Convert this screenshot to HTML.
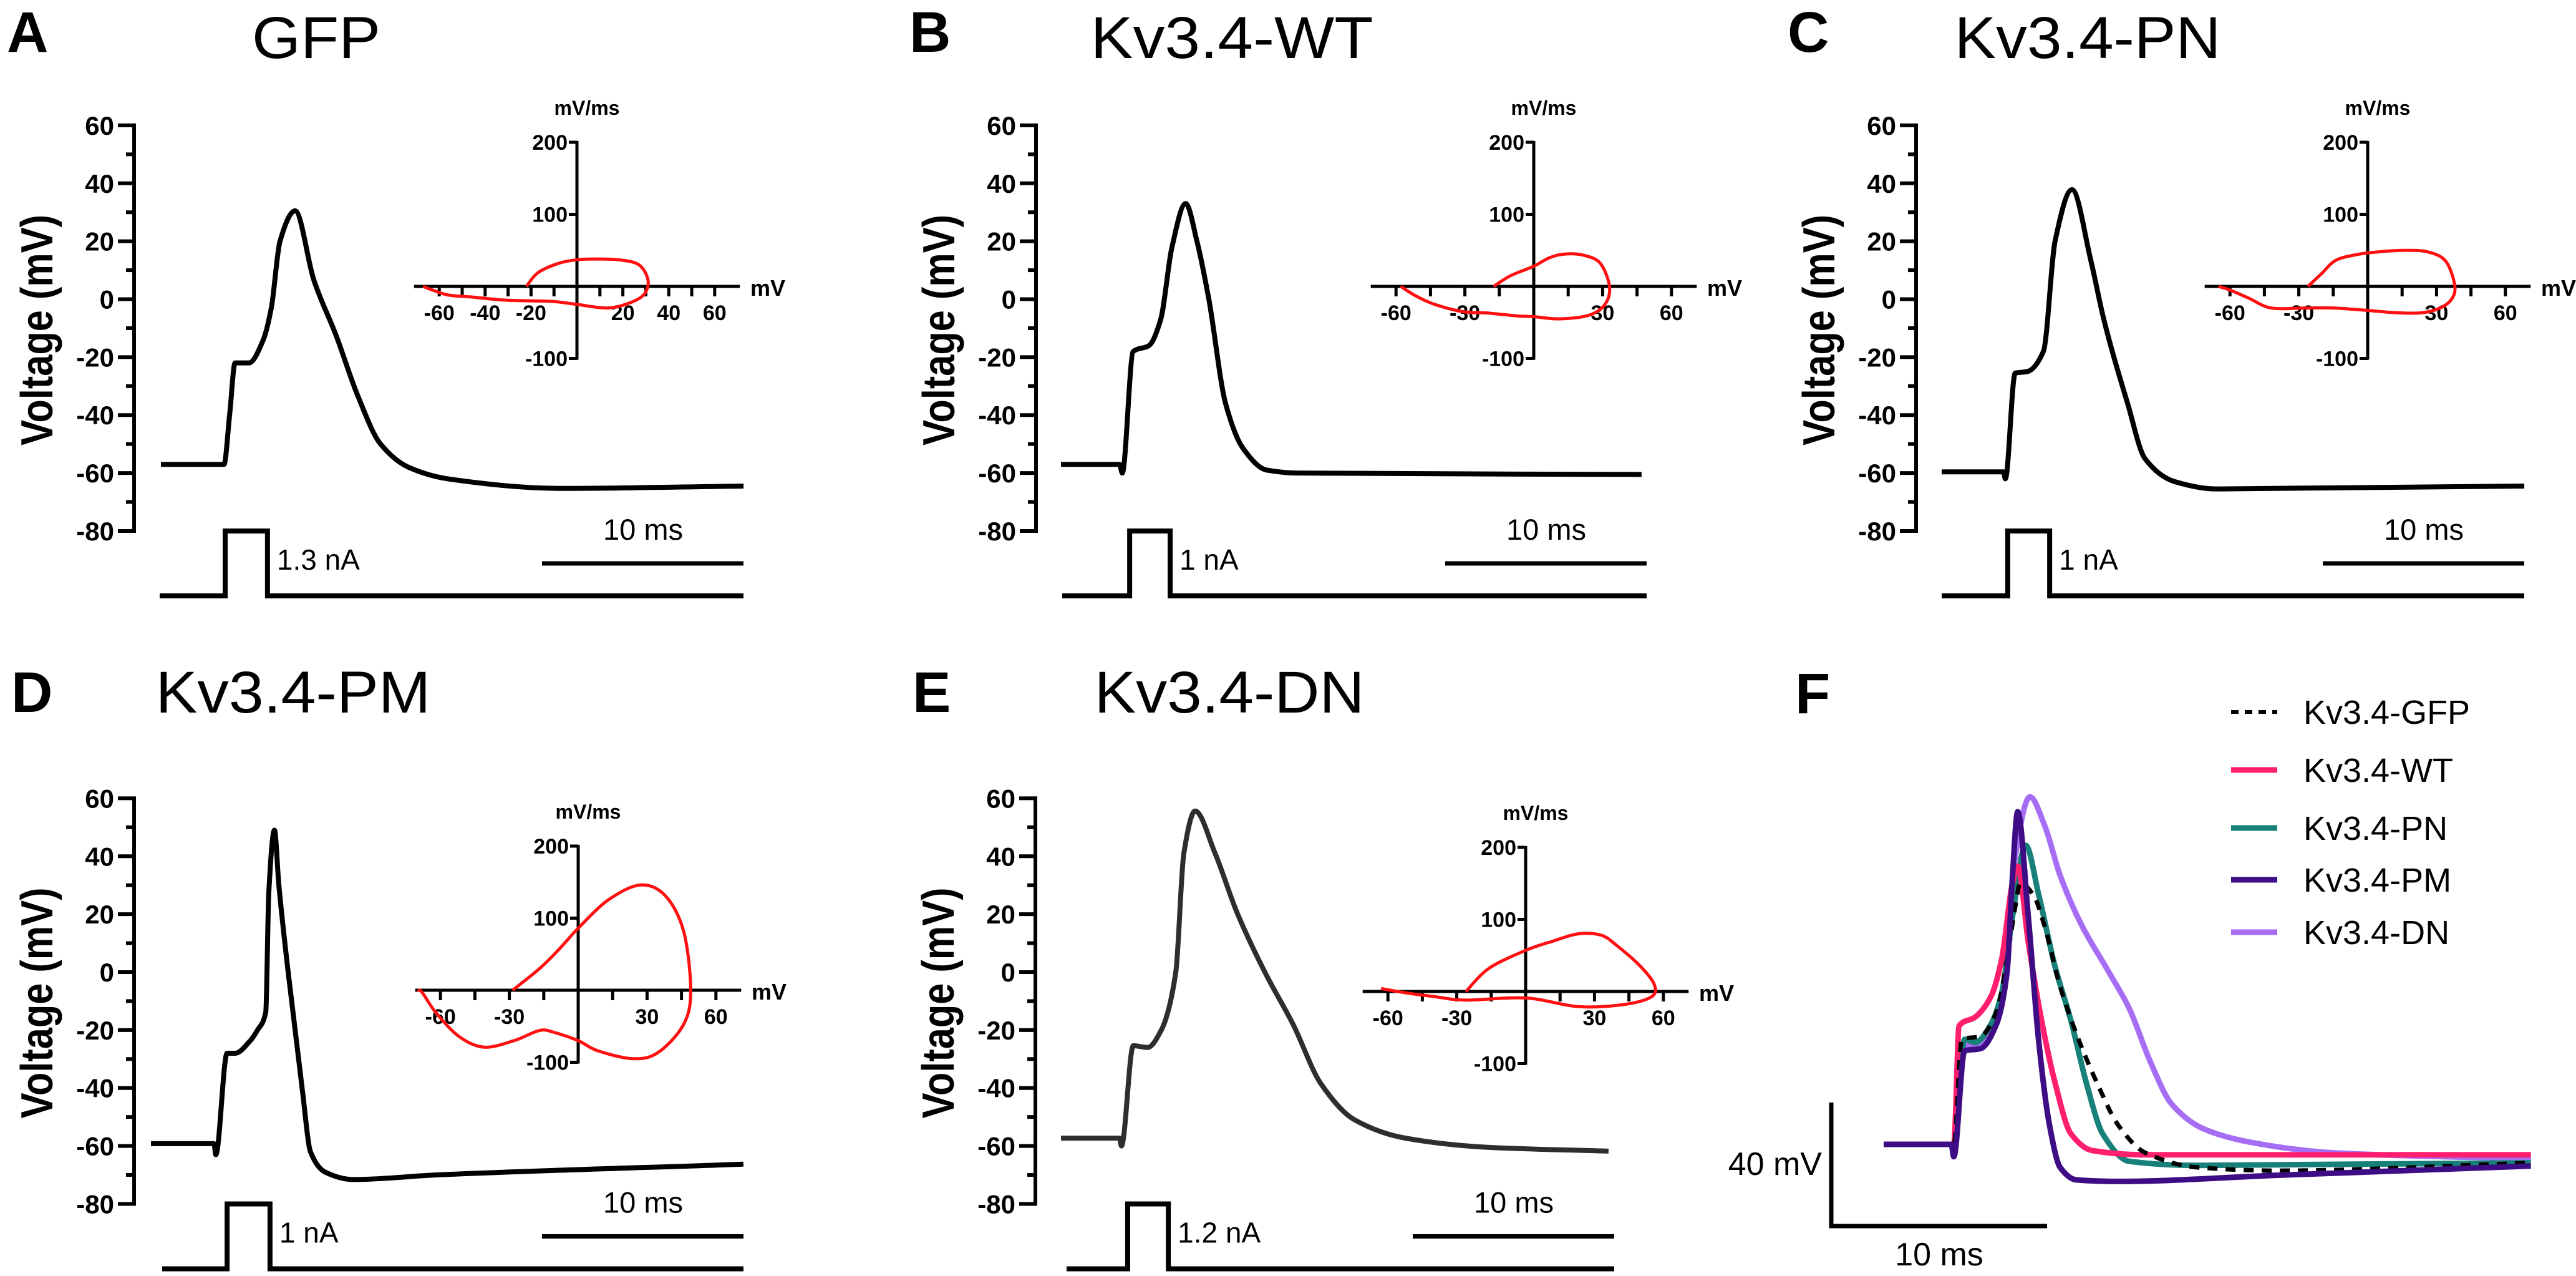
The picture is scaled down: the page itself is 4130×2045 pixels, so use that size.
<!DOCTYPE html>
<html><head><meta charset="utf-8"><title>Kv3.4 action potentials</title>
<style>html,body{margin:0;padding:0;background:#fff}svg{display:block}text{font-family:"Liberation Sans",Arial,sans-serif}</style>
</head><body>
<svg id="fig" xmlns="http://www.w3.org/2000/svg" width="4130" height="2045" viewBox="0 0 4130 2045">
<rect width="4130" height="2045" fill="#fff"/>
</svg>
<script>
// ---------- DATA (ms, mV) ----------
const tA=[0,3.13,3.41,3.68,4.37,5.08,5.48,5.91,6.66,7.59,8.70,9.78,10.90,12.29,14.24,19.88,28.92];
const vA=[-57,-57,-40,-22,-22,-14,-3,20,30.5,6.6,-12.6,-33.5,-50,-58,-62,-65.3,-64.5];
const tB=[0,2.91,3.04,3.59,4.37,4.95,5.51,6.19,6.75,7.34,8.17,9.04,10.22,11.73,28.82];
const vB=[-57,-57,-60,-18,-16,-7,18,33,20,0,-36,-51.5,-59,-60,-60.5];
const tC=[0,3.07,3.16,3.65,4.24,5.05,5.63,6.47,7.40,8.05,9.23,10.09,11.58,13.62,28.92];
const vC=[-59.6,-59.6,-62,-25.5,-25,-18,20,37.8,13.5,-7,-36,-55,-63,-65.5,-64.5];
const tD=[0,3.13,3.22,3.78,4.18,4.89,5.29,5.70,5.85,6.13,6.35,6.81,7.52,7.92,8.64,10.03,14.18,29.41];
const vD=[-59.2,-59.2,-63,-28,-28,-24,-20,-13.8,27.6,49,30,0,-41,-62,-69,-71.6,-70,-66.3];
const tE=[0,2.91,3.00,3.59,4.30,4.98,5.70,6.10,6.66,7.65,8.73,10.12,11.52,12.91,14.58,17.09,21.24,27.18];
const vE=[-57.3,-57.3,-60,-25.4,-26,-20,0,41,55.6,41,20.7,0,-18,-38.6,-51,-57.3,-60.5,-61.8];
// stimulus pulses (ms) and labels
const stimOn=[3.19,3.41,3.28,3.78,3.31];
const stimOff=[5.29,5.42,5.36,5.91,5.33];
const stimLabels=["1.3 nA","1 nA","1 nA","1 nA","1.2 nA"];
const titles=["GFP","Kv3.4-WT","Kv3.4-PN","Kv3.4-PM","Kv3.4-DN"];
const letters=["A","B","C","D","E"];
const yTicks=[-80,-60,-40,-20,0,20,40,60];
const insetYTicks=[200,100,-100];
// phase plots (V in mV, dV/dt in mV/ms)
const pVA=[-22,-17,-8,0,7,18,27,31,29,22,13,0,-10,-20,-32,-45,-56,-63,-67];
const pDA=[0,19,32,37,38,37,30,8,-12,-24,-30,-25,-21,-20,-19,-15,-12,-5,0];
const pVB=[-17.5,-10,0,7,14,22,29,33,31,24,11,0,-7,-20,-31,-44,-52,-58];
const pDB=[0,15,28,40,45,43,32,0,-25,-40,-45,-42,-41,-37,-35,-24,-12,0];
const pVC=[-26,-20,-14,-5,5,16,26,34,38,36,30,22,10,-1,-15,-27,-42,-52,-60,-65];
const pDC=[0,18,36,44,48,50,48,35,0,-20,-32,-37,-36,-33,-30,-30,-30,-16,-5,0];
const pVD=[-28.6,-16.5,-8,0,13,27,38,46,49,46,35,24,8.5,0,-11,-17,-28,-41,-52,-62,-68,-70];
const pDD=[0,31,58,86,125,146,131,81,0,-47,-86,-95,-84,-70,-58,-56,-70,-79,-64,-31,-3,0];
const pVE=[-26,-16,0,12,23,33,40,50,56,55,43,23,0,-26,-40,-52,-63];
const pDE=[0,32,57,70,80,78,63,35,10,-7,-18,-21,-9,-12,-7,-2,4];
// panel F overlay
const fNames=["Kv3.4-GFP","Kv3.4-WT","Kv3.4-PN","Kv3.4-PM","Kv3.4-DN"];
const fT_GFP=[0,3.25,3.62,4.49,5.23,5.72,6.09,6.33,6.95,7.44,8.18,8.92,9.91,10.89,12.12,14.59,18.28,29.99];
const fV_GFP=[-60,-60,-26,-25,-17,0,16.6,24.6,20.6,11,-9,-24,-40.5,-54,-62.7,-67.5,-68.5,-66];
const fT_WT=[0,3.25,3.50,4.24,4.98,5.47,5.97,6.21,6.70,7.32,7.94,8.68,9.66,12.12,29.99];
const fV_WT=[-60,-60,-21.6,-18.8,-12,0,24.6,30,5.6,-20,-40,-56.6,-62,-63.4,-63.4];
const fT_PN=[0,3.25,3.75,4.24,4.98,5.47,5.97,6.58,7.19,7.94,8.68,9.41,10.15,11.38,14.59,29.99];
const fV_PN=[-60,-60,-26,-27,-21,-11,13.8,36.8,20.6,-2.4,-20,-40.6,-56.6,-65.5,-66.8,-66];
const fT_PM=[0,3.13,3.25,3.75,4.49,5.23,5.72,5.97,6.21,6.70,7.19,7.69,8.18,8.92,10.89,18.28,29.99];
const fV_PM=[-60,-60,-64,-29.7,-29,-21,-4,27,47.7,13.8,-27,-54,-67.5,-71.5,-72,-70,-67];
const fT_DN=[0,3.25,3.75,4.49,5.23,5.72,6.09,6.78,7.44,8.18,9.17,10.40,11.38,12.37,13.35,14.83,17.05,20.75,29.99];
const fV_DN=[-60,-60,-28.5,-27,-20,0,32.7,52.5,43.6,27,11,-3.8,-16,-33.5,-47,-55,-59.4,-62.7,-64.7];

// ---------- LAYOUT ----------
const layout=[
 {ax:215,v0:479.5,xs:258,sx0:256,sx1:1192,cx:925,cy:459,letterX:11,letterY:83,titleX:507,titleY:93,titleW:206,step:10,lbl:[-60,-40,-20,20,40,60]},
 {ax:1661,v0:479.5,xs:1701,sx0:1703,sx1:2640,cx:2459,cy:459,letterX:1458,letterY:83,titleX:1975,titleY:93,titleW:453,step:15,lbl:[-60,-30,30,60]},
 {ax:3072,v0:479.5,xs:3113,sx0:3113,sx1:4047,cx:3796,cy:459,letterX:2866,letterY:83,titleX:3347,titleY:93,titleW:427,step:15,lbl:[-60,-30,30,60]},
 {ax:215,v0:1558,xs:242,sx0:260,sx1:1192,cx:927,cy:1587,letterX:18,letterY:1141,titleX:470,titleY:1142,titleW:441,step:15,lbl:[-60,-30,30,60]},
 {ax:1660,v0:1558,xs:1701,sx0:1710,sx1:2588,cx:2446,cy:1589,letterX:1463,letterY:1141,titleX:1971,titleY:1142,titleW:433,step:15,lbl:[-60,-30,30,60]}
];
const traces=[[tA,vA],[tB,vB],[tC,vC],[tD,vD],[tE,vE]];
const loops=[[pVA,pDA],[pVB,pDB],[pVC,pDC],[pVD,pDD],[pVE,pDE]];
const MV=4.643, MS=32.3, IX=3.68, IY=1.155;
const NS="http://www.w3.org/2000/svg";
const svg=document.getElementById('fig');

function mk(tag,attrs,parent){const e=document.createElementNS(NS,tag);for(const k in attrs)e.setAttribute(k,attrs[k]);(parent||svg).appendChild(e);return e;}
function smooth(pts){
  let d='M'+pts[0][0].toFixed(1)+','+pts[0][1].toFixed(1);
  for(let i=0;i<pts.length-1;i++){
    const p0=pts[Math.max(i-1,0)],p1=pts[i],p2=pts[i+1],p3=pts[Math.min(i+2,pts.length-1)];
    const k=1/6;
    const c1=[p1[0]+(p2[0]-p0[0])*k,p1[1]+(p2[1]-p0[1])*k];
    const c2=[p2[0]-(p3[0]-p1[0])*k,p2[1]-(p3[1]-p1[1])*k];
    d+='C'+c1[0].toFixed(1)+','+c1[1].toFixed(1)+' '+c2[0].toFixed(1)+','+c2[1].toFixed(1)+' '+p2[0].toFixed(1)+','+p2[1].toFixed(1);
  }
  return d;
}
// monotone cubic in x (no overshoot)
function monotone(pts){
  const n=pts.length, s=[], m=new Array(n);
  for(let i=0;i<n-1;i++){const dx=pts[i+1][0]-pts[i][0];s.push(dx>0?(pts[i+1][1]-pts[i][1])/dx:0);}
  m[0]=s[0]; m[n-1]=s[n-2];
  for(let i=1;i<n-1;i++){
    if(s[i-1]*s[i]<=0)m[i]=0;
    else{const h0=pts[i][0]-pts[i-1][0],h1=pts[i+1][0]-pts[i][0];const w1=2*h1+h0,w2=h1+2*h0;m[i]=(w1+w2)/(w1/s[i-1]+w2/s[i]);}
  }
  let d='M'+pts[0][0].toFixed(1)+','+pts[0][1].toFixed(1);
  for(let i=0;i<n-1;i++){
    const h=(pts[i+1][0]-pts[i][0])/3;
    d+='C'+(pts[i][0]+h).toFixed(1)+','+(pts[i][1]+m[i]*h).toFixed(1)+' '+(pts[i+1][0]-h).toFixed(1)+','+(pts[i+1][1]-m[i+1]*h).toFixed(1)+' '+pts[i+1][0].toFixed(1)+','+pts[i+1][1].toFixed(1);
  }
  return d;
}

layout.forEach((L,i)=>{
  const g=mk('g',{});
  
  
  const yv=v=>L.v0-v*MV;
  const xt=t=>L.xs+t*MS;
  let e=mk('text',{x:L.letterX,y:L.letterY,'font-size':92,'font-weight':'bold'},g);e.textContent=letters[i];
  
  
  e=mk('text',{x:L.titleX,y:L.titleY,'font-size':95,'text-anchor':'middle',textLength:L.titleW,lengthAdjust:'spacingAndGlyphs'},g);e.textContent=titles[i];
  
  
  e=mk('line',{x1:L.ax,y1:yv(60)-3,x2:L.ax,y2:yv(-80)+3,stroke:'#000','stroke-width':6},g);
  
  
  for(let mv=-80;mv<=60;mv+=10){
    const maj=mv%20===0;
    e=mk('line',{x1:L.ax-(maj?26:13),y1:yv(mv),x2:L.ax,y2:yv(mv),stroke:'#000','stroke-width':6},g);
    
    
  }
  yTicks.forEach(mv=>{
    const t=mk('text',{x:L.ax-32,y:yv(mv)+15,'font-size':42,'font-weight':'bold','text-anchor':'end'},g);t.textContent=String(mv);
    
    
  });
  e=mk('text',{x:0,y:0,'font-size':72,'font-weight':'bold','text-anchor':'middle','dominant-baseline':'central',textLength:370,lengthAdjust:'spacingAndGlyphs',transform:'translate('+(L.ax-155)+','+(yv(-10)+3)+') rotate(-90)'},g);
  e.textContent='Voltage (mV)';
  
  
  const [T,V]=traces[i];
  e=mk('path',{d:monotone(T.map((t,j)=>[xt(t),yv(V[j])])),fill:'none',stroke:i===4?'#2e2e2e':'#000','stroke-width':8,'stroke-linejoin':'round'},g);
  
  
  const hi=yv(-80), lo=hi+104, p0=xt(stimOn[i]), p1=xt(stimOff[i]);
  e=mk('polyline',{points:[[L.sx0,lo],[p0,lo],[p0,hi],[p1,hi],[p1,lo],[L.sx1,lo]].map(p=>p.join(',')).join(' '),fill:'none',stroke:'#000','stroke-width':8},g);
  
  
  e=mk('text',{x:p1+15,y:hi+62,'font-size':46},g);e.textContent=stimLabels[i];
  
  
  e=mk('line',{x1:L.sx1-323,y1:hi+52,x2:L.sx1,y2:hi+52,stroke:'#000','stroke-width':7},g);
  
  
  e=mk('text',{x:L.sx1-161,y:hi+14,'font-size':47,'text-anchor':'middle'},g);e.textContent='10 ms';
  
  
  const ig=mk('g',{},g);
  
  
  const ix=v=>L.cx+v*IX, iy=d=>L.cy-d*IY;
  e=mk('line',{x1:L.cx,y1:iy(200)-2,x2:L.cx,y2:iy(-100)+2,stroke:'#000','stroke-width':5},ig);
  
  
  insetYTicks.forEach(d=>{
    let t=mk('line',{x1:L.cx-13,y1:iy(d),x2:L.cx,y2:iy(d),stroke:'#000','stroke-width':5},ig);
    
    
    t=mk('text',{x:L.cx-15,y:iy(d)+12,'font-size':34,'font-weight':'bold','text-anchor':'end'},ig);t.textContent=String(d);
    
    
  });
  e=mk('line',{x1:ix(-71),y1:L.cy,x2:ix(71),y2:L.cy,stroke:'#000','stroke-width':5},ig);
  
  
  for(let v=-60;v<=60;v+=L.step){
    if(v===0)continue;
    e=mk('line',{x1:ix(v),y1:L.cy,x2:ix(v),y2:L.cy+16,stroke:'#000','stroke-width':5},ig);
    
    
  }
  L.lbl.forEach(v=>{
    const t=mk('text',{x:ix(v),y:L.cy+54,'font-size':34,'font-weight':'bold','text-anchor':'middle'},ig);t.textContent=String(v);
    
    
  });
  e=mk('text',{x:L.cx+278,y:L.cy+15,'font-size':36,'font-weight':'bold'},ig);e.textContent='mV';
  
  
  e=mk('text',{x:L.cx+16,y:L.cy-275,'font-size':32,'font-weight':'bold','text-anchor':'middle'},ig);e.textContent='mV/ms';
  
  
  const [PV,PD]=loops[i];
  e=mk('path',{d:smooth(PV.map((v,j)=>[ix(v),iy(PD[j])])),fill:'none',stroke:'#ff1010','stroke-width':5,'stroke-linejoin':'round'},ig);
  
  
});

(function(){
  const g=mk('g',{});
  
  
  const xt=t=>3020+t*34.6, yv=v=>1537-v*4.95;
  let e=mk('text',{x:2878,y:1143,'font-size':92,'font-weight':'bold'},g);e.textContent='F';
  
  
  const series=[
    {n:4,t:fT_DN,v:fV_DN,c:'#a66ef5',dash:null},
    {n:2,t:fT_PN,v:fV_PN,c:'#168079',dash:null},
    {n:1,t:fT_WT,v:fV_WT,c:'#ff1f6e',dash:null},
    {n:0,t:fT_GFP,v:fV_GFP,c:'#000',dash:'16 13'},
    {n:3,t:fT_PM,v:fV_PM,c:'#3e0c84',dash:null}
  ];
  series.forEach(s=>{
    const p=mk('path',{d:monotone(s.t.map((t,j)=>[xt(t),yv(s.v[j])])),fill:'none',stroke:s.c,'stroke-width':s.dash?7:9,'stroke-linejoin':'round'},g);
    if(s.dash)p.setAttribute('stroke-dasharray',s.dash);
    
    
  });
  const cols=['#000','#ff1f6e','#168079','#3e0c84','#a66ef5'];
  const rows=[1141,1234,1327,1410,1494];
  fNames.forEach((n,k)=>{
    const lg=mk('g',{},g);
    
    
    const l=mk('line',{x1:3577,y1:rows[k],x2:3651,y2:rows[k],stroke:cols[k],'stroke-width':k===0?6:9},lg);
    if(k===0)l.setAttribute('stroke-dasharray','12 10');
    const t=mk('text',{x:3693,y:rows[k]+19,'font-size':54},lg);t.textContent=n;
  });
  e=mk('polyline',{points:'2936,1767 2936,1965 3282,1965',fill:'none',stroke:'#000','stroke-width':7},g);
  
  
  e=mk('text',{x:2921,y:1883,'font-size':52,'text-anchor':'end'},g);e.textContent='40 mV';
  
  
  e=mk('text',{x:3109,y:2028,'font-size':52,'text-anchor':'middle'},g);e.textContent='10 ms';
  
  
})();
</script>
</body></html>
